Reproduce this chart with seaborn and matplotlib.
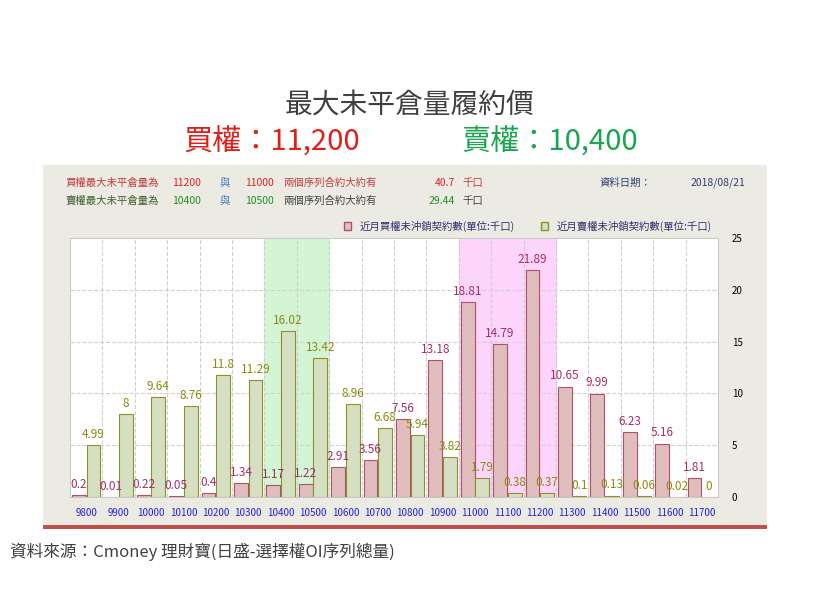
import matplotlib
matplotlib.use("Agg")
import matplotlib.pyplot as plt
import seaborn as sns
import pandas as pd
from matplotlib.patches import Rectangle

strikes = ["9800","9900","10000","10100","10200","10300","10400","10500","10600","10700",
           "10800","10900","11000","11100","11200","11300","11400","11500","11600","11700"]
calls = [0.2,0.01,0.22,0.05,0.4,1.34,1.17,1.22,2.91,3.56,7.56,13.18,18.81,14.79,21.89,10.65,9.99,6.23,5.16,1.81]
puts = [4.99,8,9.64,8.76,11.8,11.29,16.02,13.42,8.96,6.68,5.94,3.82,1.79,0.38,0.37,0.1,0.13,0.06,0.02,0]
call_name = "近月買權未沖銷契約數(單位:千口)"
put_name = "近月賣權未沖銷契約數(單位:千口)"

plt.rcParams["font.family"] = ["Noto Sans CJK TC", "Noto Sans CJK JP", "Noto Sans CJK SC", "DejaVu Sans"]
W, H = 820, 592
fig = plt.figure(figsize=(8.2, 5.92), dpi=100)
fig.patch.set_facecolor("white")

def fx(x): return x / W
def fy(y): return 1 - y / H

fig.patches.append(Rectangle((fx(43), fy(525)), fx(767) - fx(43), fy(165) - fy(525),
                             transform=fig.transFigure, facecolor="#ecebe3", edgecolor="none", zorder=-10))
fig.patches.append(Rectangle((fx(43), fy(529)), fx(767) - fx(43), 4 / H,
                             transform=fig.transFigure, facecolor="#c0504d", edgecolor="none", zorder=-9))

fig.text(fx(410), fy(105), "最大未平倉量履約價", ha="center", va="center", fontsize=20, color="#404040")
fig.text(fx(272), fy(142), "買權：11,200", ha="center", va="center", fontsize=21, color="#e0201a")
fig.text(fx(550), fy(142), "賣權：10,400", ha="center", va="center", fontsize=21, color="#1aa550")
fig.text(fx(10), fy(552), "資料來源：Cmoney 理財寶(日盛-選擇權OI序列總量)", ha="left", va="center", fontsize=12, color="#404040")

hs = 7.5
fig.text(fx(65), fy(183), "買權最大未平倉量為", fontsize=hs, color="#c04040", va="center")
fig.text(fx(172), fy(183), "11200", fontsize=hs, color="#e02020", va="center")
fig.text(fx(220), fy(183), "與", fontsize=hs, color="#4080c0", va="center")
fig.text(fx(245), fy(183), "11000", fontsize=hs, color="#e02020", va="center")
fig.text(fx(283), fy(183), "兩個序列合約大約有", fontsize=hs, color="#c04040", va="center")
fig.text(fx(455), fy(183), "40.7", fontsize=hs, color="#e02020", va="center", ha="right")
fig.text(fx(462), fy(183), "千口", fontsize=hs, color="#c04040", va="center")
fig.text(fx(65), fy(201), "賣權最大未平倉量為", fontsize=hs, color="#406030", va="center")
fig.text(fx(172), fy(201), "10400", fontsize=hs, color="#209020", va="center")
fig.text(fx(220), fy(201), "與", fontsize=hs, color="#4080c0", va="center")
fig.text(fx(245), fy(201), "10500", fontsize=hs, color="#209020", va="center")
fig.text(fx(283), fy(201), "兩個序列合約大約有", fontsize=hs, color="#404040", va="center")
fig.text(fx(455), fy(201), "29.44", fontsize=hs, color="#209020", va="center", ha="right")
fig.text(fx(462), fy(201), "千口", fontsize=hs, color="#404040", va="center")
fig.text(fx(600), fy(183), "資料日期：", fontsize=hs, color="#304070", va="center")
fig.text(fx(745), fy(183), "2018/08/21", fontsize=hs, color="#304070", va="center", ha="right")

ax = fig.add_axes([fx(70), fy(497), fx(718) - fx(70), fy(238) - fy(497)], zorder=5)
ax.set_facecolor("white")
df = pd.DataFrame({"strike": strikes * 2, "oi": calls + puts,
                   "type": [call_name] * len(strikes) + [put_name] * len(strikes)})
sns.barplot(data=df, x="strike", y="oi", hue="type", order=strikes,
            palette={call_name: "#e6b8b8", put_name: "#d7e4bd"}, width=0.9, gap=0.05, ax=ax, zorder=3)
edge = {0: "#b0506a", 1: "#90902a"}
for i, cont in enumerate(ax.containers):
    for bar in cont:
        bar.set_edgecolor(edge[i]); bar.set_linewidth(0.8)
    ax.bar_label(cont, labels=[f"{v:g}" for v in (calls if i == 0 else puts)], padding=3,
                 fontsize=8.5, color=("#a0306a" if i == 0 else "#8a8a10"), zorder=5)
ax.axvspan(5.5, 7.5, color="#d4f5d4", zorder=0)
ax.axvspan(11.5, 14.5, color="#fcd4fc", zorder=0)
ax.set_xlim(-0.5, len(strikes) - 0.5)
ax.set_ylim(0, 25)
for k in range(len(strikes) - 1):
    ax.axvline(k + 0.5, color="#d0d0d0", ls="--", lw=0.8, zorder=1)
for yv in [5, 10, 15, 20]:
    ax.axhline(yv, color="#d0d0d0", ls="--", lw=0.8, zorder=1)
ax.yaxis.tick_right()
ax.set_yticks([0, 5, 10, 15, 20, 25])
ax.tick_params(axis="y", length=0, labelsize=7, pad=10)
ax.tick_params(axis="x", length=0, labelsize=7, colors="#2020e0", pad=8)
ax.set_xlabel(""); ax.set_ylabel("")
for s in ax.spines.values():
    s.set_color("#c0c0c0"); s.set_linewidth(0.6)
leg = ax.legend(loc="lower right", bbox_to_anchor=(1.0, 1.0), ncol=2, frameon=False, fontsize=7.5,
          handlelength=0.7, handleheight=0.7, columnspacing=2.5, labelcolor="#303070", borderaxespad=0.2)
for h, c in zip(leg.legend_handles, ["#b0506a", "#90902a"]):
    h.set_edgecolor(c); h.set_linewidth(1)
fig.savefig("out.png", dpi=100, facecolor="white")
